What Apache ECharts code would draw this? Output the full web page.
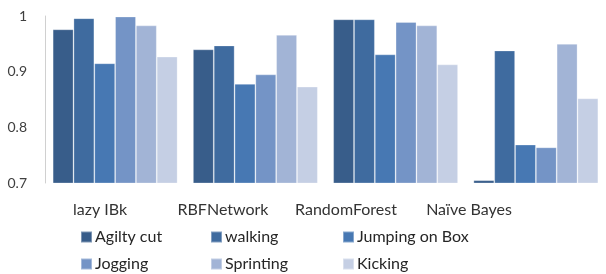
<!DOCTYPE html>
<html><head><meta charset="utf-8">
<script src="https://cdn.jsdelivr.net/npm/echarts@6/dist/echarts.min.js"></script>
<style>html,body{margin:0;padding:0;background:#fff}#c{width:606px;height:274px}</style>
</head><body><div id="c"></div>
<script>
const categories = ['lazy IBk', 'RBFNetwork', 'RandomForest', 'Naïve Bayes'];
const seriesNames = ['Agilty cut', 'walking', 'Jumping on Box', 'Jogging', 'Sprinting', 'Kicking'];
const agilityCut = [0.976, 0.940, 0.994, 0.705];
const walking = [0.996, 0.947, 0.994, 0.938];
const jumpingOnBox = [0.915, 0.878, 0.931, 0.769];
const jogging = [0.999, 0.895, 0.989, 0.764];
const sprinting = [0.983, 0.966, 0.983, 0.950];
const kicking = [0.927, 0.873, 0.913, 0.852];
const yTicks = [0.7, 0.8, 0.9, 1];

const values = [agilityCut, walking, jumpingOnBox, jogging, sprinting, kicking];
const colors = ['#385d8a', '#3f6b9f', '#4778b3', '#7494c6', '#a2b4d6', '#c5cfe4'];
const font = 'Lato, "Open Sans", sans-serif';
const legendPos = [[80, 229], [210, 229], [342, 229], [80, 256], [210, 256], [342, 256]];

const chart = echarts.init(document.getElementById('c'));
chart.setOption({
  animation: false,
  color: colors,
  grid: [
    {left: 45, right: -7, top: 16, bottom: 91},
    {left: 38.5, width: 492, top: 16, bottom: 91}
  ],
  xAxis: [
    {type: 'category', data: categories, gridIndex: 0,
     axisLine: {show: false}, axisTick: {show: false}, axisLabel: {show: false}},
    {type: 'category', data: categories, gridIndex: 1,
     axisLine: {show: false}, axisTick: {show: false},
     axisLabel: {interval: 0, margin: 19, fontSize: 16, color: '#333', fontFamily: font}}
  ],
  yAxis: [
    {type: 'value', gridIndex: 0, min: yTicks[0], max: yTicks[yTicks.length - 1], interval: 0.1,
     splitLine: {show: false},
     axisLine: {show: true, lineStyle: {color: '#d0d0d0', width: 1}},
     axisTick: {show: false},
     axisLabel: {margin: 18, fontSize: 14, color: '#404040', fontFamily: font,
       formatter: v => String(Math.round(v * 10) / 10)}},
    {type: 'value', gridIndex: 1, show: false, min: 0.7, max: 1}
  ],
  legend: seriesNames.map((n, i) => ({
    data: [n], left: legendPos[i][0], top: legendPos[i][1], padding: 0,
    itemWidth: 11, itemHeight: 11, itemGap: 0, icon: 'rect',
    textStyle: {fontSize: 16, color: '#262626', fontFamily: font, padding: [0, 0, 0, -2]}
  })),
  series: seriesNames.map((n, i) => ({
    name: n, type: 'bar', xAxisIndex: 0, yAxisIndex: 0,
    data: values[i],
    barGap: '0%', barCategoryGap: '11%',
    itemStyle: {color: colors[i], borderColor: 'rgba(255,255,255,0.35)', borderWidth: 0.8}
  }))
});
</script></body></html>
